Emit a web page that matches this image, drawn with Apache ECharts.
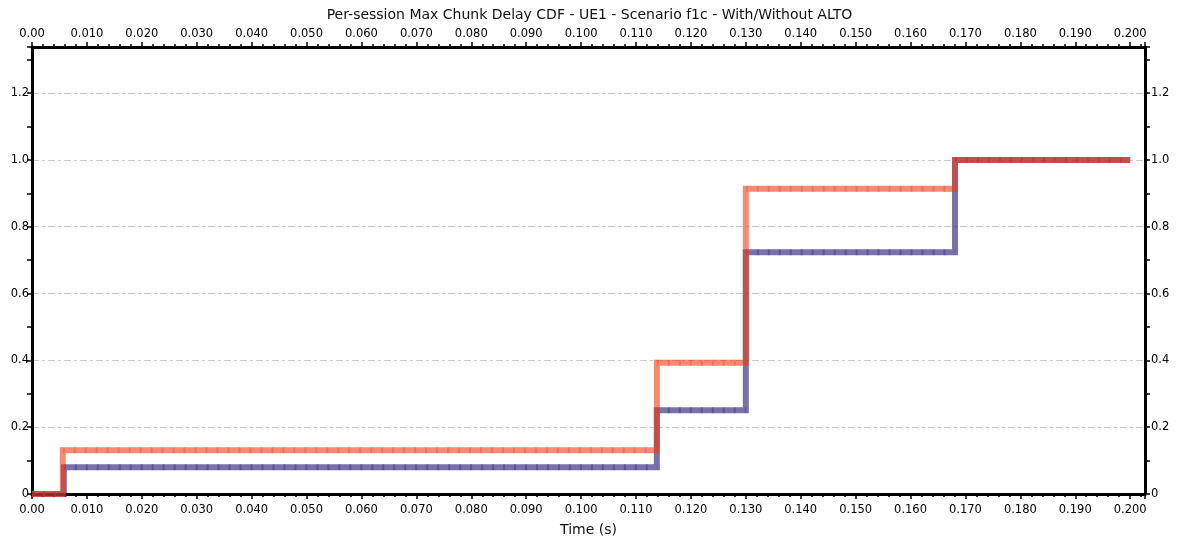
<!DOCTYPE html>
<html>
<head>
<meta charset="utf-8">
<script src="https://cdn.jsdelivr.net/npm/echarts@6/dist/echarts.min.js"></script>
<style>
html,body{margin:0;padding:0;background:#fff;}
#chart{width:1179px;height:536px;}
</style>
</head>
<body>
<div id="chart"></div>
<script>
// Step CDF breakpoints [time (s), cumulative fraction]
const withoutAltoX = [0, 0.0058, 0.1138, 0.1300, 0.1681, 0.2000];
const withoutAltoY = [0, 0.080, 0.251, 0.724, 1.0, 1.0];
const withAltoX = [0, 0.0056, 0.1138, 0.1300, 0.1681, 0.2000];
const withAltoY = [0, 0.131, 0.393, 0.914, 1.0, 1.0];
const yTicks = [0, 0.2, 0.4, 0.6, 0.8, 1.0, 1.2];

const pair = (xs, ys) => xs.map((x, i) => [x, ys[i]]);
// horizontal runs only (broken between steps) for the tick-mark overlay
const runs = (xs, ys) => {
  const out = [];
  for (let i = 0; i < xs.length - 1; i++) {
    out.push([xs[i], ys[i]], [xs[i + 1], ys[i]]);
    if (i < xs.length - 2) out.push([xs[i + 1], '-']);
  }
  return out;
};
const blueData = pair(withoutAltoX, withoutAltoY);
const orangeData = pair(withAltoX, withAltoY);

const fontFam = 'DejaVu Sans';
const xFmt = v => (Math.abs(v) < 1e-9 ? '0.00' : v.toFixed(3));
const yFmt = v => (Math.abs(v) < 1e-9 ? '0' : v.toFixed(1));

function xAxis(pos) {
  return {
    type: 'value', position: pos, min: 0, max: 0.2027, interval: 0.01,
    axisLine: {show: true, onZero: false, lineStyle: {color: '#000', width: 3}},
    axisTick: {show: true, inside: false, length: 5, lineStyle: {color: '#000', width: 1.5}},
    minorTick: {show: true, splitNumber: 5, length: 3, lineStyle: {color: '#000', width: 1.5}},
    axisLabel: {show: true, formatter: xFmt, showMaxLabel: false, margin: pos === 'bottom' ? 10 : 7,
      fontFamily: fontFam, fontSize: 11.5, color: '#000'},
    splitLine: {show: false}
  };
}
function yAxis(pos, grid) {
  return {
    type: 'value', position: pos, min: 0, max: 1.338, interval: 0.2,
    axisLine: {show: true, onZero: false, lineStyle: {color: '#000', width: 3}},
    axisTick: {show: true, length: 5, lineStyle: {color: '#000', width: 1.5}},
    minorTick: {show: true, splitNumber: 2, length: 5, lineStyle: {color: '#000', width: 1.5}},
    axisLabel: {show: true, formatter: yFmt, showMaxLabel: false, margin: pos === 'left' ? 3 : 6,
      fontFamily: fontFam, fontSize: 11.5, color: '#000'},
    splitLine: grid ? {show: true, lineStyle: {color: '#c8c8c8', width: 1, type: [7, 3, 3, 3]}} : {show: false}
  };
}

const chart = echarts.init(document.getElementById('chart'), null, {renderer: 'canvas'});
const lineW = 6;
function stepSeries(name, data, color, step, dash, z) {
  return {
    name: name, type: 'line', step: step, data: data, showSymbol: false, symbol: 'none',
    connectNulls: false, xAxisIndex: 0, yAxisIndex: 0, z: z, silent: true, animation: false,
    lineStyle: {color: color, width: lineW, type: dash || 'solid', cap: 'butt', join: 'miter'}
  };
}
chart.setOption({
  animation: false,
  backgroundColor: '#fff',
  title: {
    text: 'Per-session Max Chunk Delay CDF - UE1 - Scenario f1c - With/Without ALTO',
    left: 'center', top: 3,
    textStyle: {fontFamily: fontFam, fontSize: 14, fontWeight: 'normal', color: '#111'}
  },
  grid: {left: 32, right: 34, top: 47, bottom: 42, containLabel: false, outerBoundsMode: 'none'},
  xAxis: [
    Object.assign(xAxis('bottom'), {name: 'Time (s)', nameLocation: 'middle', nameGap: 29,
      nameTextStyle: {fontFamily: fontFam, fontSize: 14, color: '#111'}}),
    xAxis('top')
  ],
  yAxis: [yAxis('left', true), yAxis('right', false)],
  series: [
    stepSeries('Without ALTO', blueData, 'rgba(30,20,110,0.6)', 'end', null, 3),
    stepSeries('Without ALTO ticks', runs(withoutAltoX, withoutAltoY), 'rgba(30,20,110,0.3)', false, [2, 8.98], 4),
    stepSeries('With ALTO', orangeData, 'rgba(240,60,20,0.6)', 'end', null, 5),
    stepSeries('With ALTO ticks', runs(withAltoX, withAltoY), 'rgba(240,60,20,0.3)', false, [2, 8.98], 6)
  ]
});
</script>
</body>
</html>
